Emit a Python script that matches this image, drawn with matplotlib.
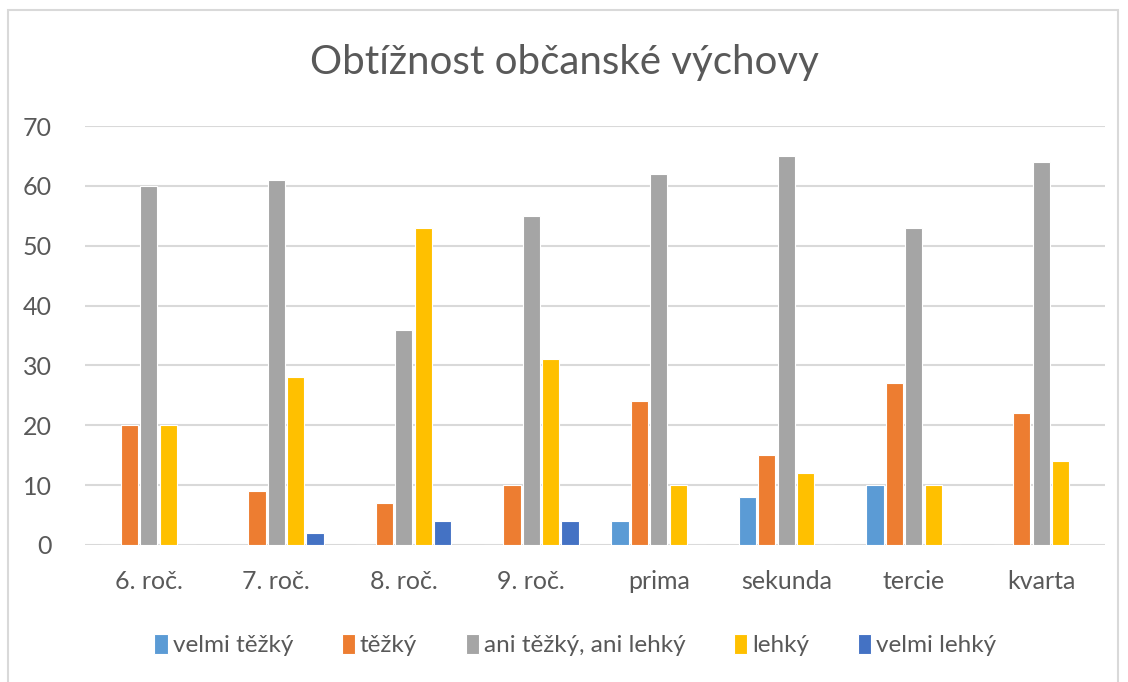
import matplotlib
matplotlib.use('Agg')
import matplotlib.pyplot as plt
import numpy as np
from matplotlib.patches import Rectangle

# data
categories = ['6. roč.', '7. roč.', '8. roč.', '9. roč.', 'prima', 'sekunda', 'tercie', 'kvarta']
series_names = ['velmi těžký', 'těžký', 'ani těžký, ani lehký', 'lehký', 'velmi lehký']
velmi_tezky = [0, 0, 0, 0, 4, 8, 10, 0]
tezky = [20, 9, 7, 10, 24, 15, 27, 22]
ani = [60, 61, 36, 55, 62, 65, 53, 64]
lehky = [20, 28, 53, 31, 10, 12, 10, 14]
velmi_lehky = [0, 2, 4, 4, 0, 0, 0, 0]
colors = ['#5b9bd5', '#ed7d31', '#a5a5a5', '#ffc000', '#4472c4']

plt.rcParams['font.family'] = ['Lato', 'DejaVu Sans']
txt = '#595959'

fig = plt.figure(figsize=(11.28, 6.82), dpi=100)
ax = fig.add_axes([0.0754, 0.2009, 0.9042, 0.6143])

x = np.arange(len(categories))
step = 0.152
width = 0.135
for i, (vals, name) in enumerate(zip([velmi_tezky, tezky, ani, lehky, velmi_lehky], series_names)):
    ax.bar(x + (i - 2) * step, vals, width, color=colors[i], label=name,
           edgecolor='white', linewidth=0.8, zorder=3)

ax.set_xlim(-0.5, len(categories) - 0.5)
ax.set_ylim(0, 70)
ax.set_yticks(range(0, 71, 10))
ax.set_xticks(x)
ax.set_xticklabels(categories)
ax.grid(axis='y', color='#d9d9d9', linewidth=1.5, zorder=0)
for s in ax.spines.values():
    s.set_visible(False)
ax.tick_params(length=0, labelsize=18, colors=txt, pad=18)
ax.tick_params(axis='y', pad=24)

fig.suptitle('Obtížnost občanské výchovy', y=0.935, fontsize=29, color=txt)

leg = fig.legend(loc='center', bbox_to_anchor=(0.51, 0.054), ncol=5, frameon=False,
                 fontsize=17.5, handlelength=0.55, handleheight=0.9, handletextpad=0.2,
                 columnspacing=2.0)
for t in leg.get_texts():
    t.set_color(txt)

# outer chart border
fig.patches.append(Rectangle((8 / 1128, -0.01), 1110 / 1128, 1 - 10 / 682 + 0.01,
                             transform=fig.transFigure, fill=False,
                             edgecolor='#d9d9d9', linewidth=1.5))

fig.savefig('out.png', dpi=100)
